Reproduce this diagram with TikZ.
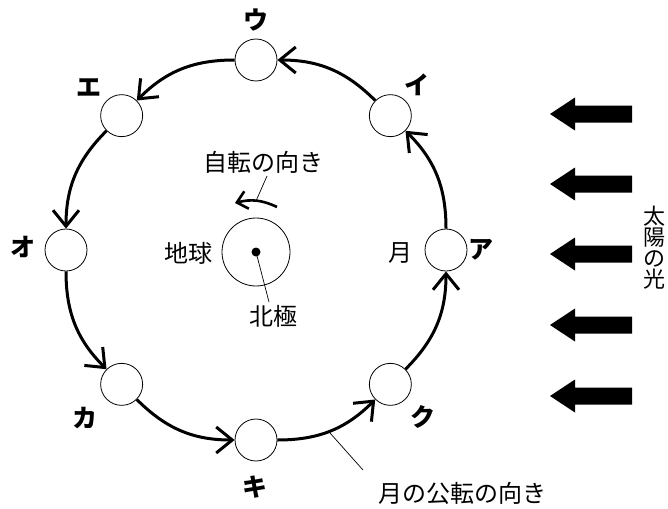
\documentclass[tikz,border=0pt]{standalone}
\usepackage{fontspec}
\newfontfamily\jp{Noto Sans CJK JP}
\usetikzlibrary{arrows.meta}
\begin{document}
\begin{tikzpicture}[x=1pt,y=-1pt,
  moon/.style={circle,draw,line width=0.8pt,minimum size=42pt,inner sep=0pt},
  orbit/.style={line width=3pt,-{Straight Barb[length=16pt,width=26pt]}},
  lab/.style={font=\jp\bfseries\fontsize{25}{25}\selectfont,inner sep=0pt},
  txt/.style={font=\jp\fontsize{24}{24}\selectfont,inner sep=0pt},
  thinline/.style={line width=0.7pt}]
\useasboundingbox (0,0) rectangle (668,508);
% moons
\node[moon] (a) at (446,250) {};
\node[moon] (i) at (390.35,115.65) {};
\node[moon] (u) at (256,60) {};
\node[moon] (e) at (121.65,115.65) {};
\node[moon] (o) at (66,250) {};
\node[moon] (ka) at (121.65,384.35) {};
\node[moon] (ki) at (256,440) {};
\node[moon] (ku) at (390.35,384.35) {};
% labels
\node[lab] (la) at (481,250) {ア};
\node[lab] (li) at (417,85) {イ};
\node[lab] (lu) at (256,20) {ウ};
\node[lab] (le) at (89,88) {エ};
\node[lab] (lo) at (23,247) {オ};
\node[lab] (lka) at (85,418) {カ};
\node[lab] (lki) at (255,487) {キ};
\node[lab] (lku) at (423,417) {ク};
% orbit arcs
\draw[orbit] (a) to[bend right=22.5] (i);
\draw[orbit] (i) to[bend right=22.5] (u);
\draw[orbit] (u) to[bend right=22.5] (e);
\draw[orbit] (e) to[bend right=22.5] (o);
\draw[orbit] (o) to[bend right=22.5] (ka);
\draw[orbit] (ka) to[bend right=22.5] (ki);
\draw[orbit] (ki) to[bend right=22.5] (ku);
\draw[orbit] (ku) to[bend right=22.5] (a);
% earth
\node[circle,draw,line width=0.8pt,minimum size=68pt,inner sep=0pt] (earth) at (256,252) {};
\node[circle,fill,inner sep=0pt,minimum size=9pt] (np) at (256,252) {};
% rotation arrow
\coordinate (r1) at (277,207);
\coordinate (r2) at (235,203);
\draw[line width=2.6pt,-{Straight Barb[length=10pt,width=18pt]}] (r1) to[bend right=20] (r2);
% texts
\node[txt] (jiten) at (263,162) {自転の向き};
\node[txt] (chikyu) at (188,253) {地球};
\node[txt] (hokkyoku) at (273,316) {北極};
\node[txt] (tsuki) at (400,253) {月};
\node[txt] (koten) at (462,493) {月の公転の向き};
\node[font=\jp\fontsize{22}{21}\selectfont,inner sep=0pt,align=center] (sun) at (654,248) {太\\陽\\の\\光};
% leaders
\coordinate (rl1) at (267,176);
\coordinate (rl2) at (256,201);
\draw[thinline] (rl1) -- (rl2);
\coordinate (npe) at (269,302);
\draw[thinline] (np.center) -- (npe);
\coordinate (ol1) at (330,433);
\coordinate (ol2) at (363,470);
\draw[thinline] (ol1) -- (ol2);
% sun arrows
\foreach \y in {114,184,254,325,396}{
  \fill (550,\y) -- (575,\y-16.5) -- (575,\y-8.5) -- (632,\y-8.5) -- (632,\y+8.5) -- (575,\y+8.5) -- (575,\y+16.5) -- cycle;
}
\end{tikzpicture}
\end{document}
